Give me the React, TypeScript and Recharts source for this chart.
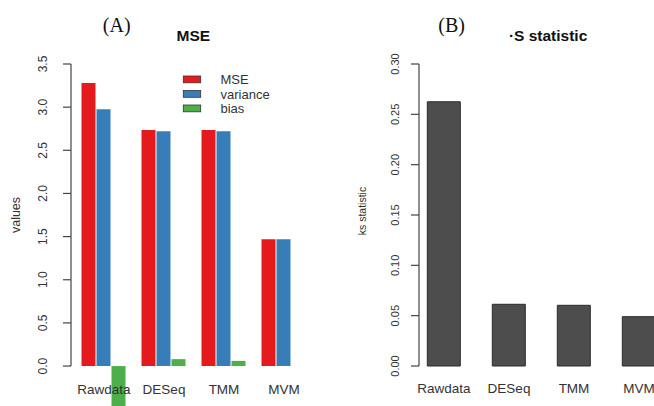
import { Bar, BarChart, XAxis, YAxis } from "recharts";

const methods = ["Rawdata", "DESeq", "TMM", "MVM"];
const mseValues = [3.28, 2.735, 2.735, 1.47];
const varianceValues = [2.975, 2.72, 2.72, 1.47];
const biasValues = [-0.5, 0.08, 0.06, 0];
const ksValues = [0.2625, 0.0613, 0.0603, 0.049];
const mseTicks = [0, 0.5, 1, 1.5, 2, 2.5, 3, 3.5];
const ksTicks = [0, 0.05, 0.1, 0.15, 0.2, 0.25, 0.3];
const mseDomain = [-0.5, 3.5];

const SANS = "'Liberation Sans', Arial, sans-serif";
const SERIF = "'Liberation Serif', 'Times New Roman', serif";
const AXIS_INK = "#444";
const LABEL_INK = "#333";
const TICK_SIZE = 8;

/** RColorBrewer Set1, as in the original barplot. */
const SERIES = [
  { key: "mse", name: "MSE", color: "#E41A1C" },
  { key: "variance", name: "variance", color: "#377EB8" },
  { key: "bias", name: "bias", color: "#4DAF4A" },
];

const mseData = methods.map((m, i) => ({
  method: m,
  mse: mseValues[i],
  variance: varianceValues[i],
  bias: biasValues[i],
}));
const ksData = methods.map((m, i) => ({ method: m, ks: ksValues[i] }));

// panel A frame: the plot runs below zero so the negative bias bar can hang past the labels
const A_HEIGHT = 412;
const A_MARGIN = { top: 64, right: 16, bottom: 0.8, left: 0 };
const A_XAXIS_H = 2;
const A_YAXIS_W = 71;
const A_TICK_MARGIN = 19.7;
const aPlotH = A_HEIGHT - A_MARGIN.top - A_MARGIN.bottom - A_XAXIS_H;
// pixel gap between two y ticks; R only draws its axis over the tick range, so
// every tick above zero draws the piece of axis down to the tick below it
const aTickStep = ((mseTicks[1] - mseTicks[0]) / (mseDomain[1] - mseDomain[0])) * aPlotH;

const tickLabel = (x: number, y: number, text: string, fontSize: number) => (
  <text
    x={x}
    y={y}
    transform={`rotate(-90 ${x} ${y})`}
    textAnchor="middle"
    dominantBaseline="central"
    fontSize={fontSize}
    fontFamily={SANS}
    fill={LABEL_INK}
  >
    {text}
  </text>
);

// y tick labels in R are turned to read bottom-to-top
const rotatedTick = (digits: number, fontSize: number) => (p: any) =>
  tickLabel(p.x, p.y, Number(p.payload.value).toFixed(digits), fontSize);

const mseTick = (p: any) => {
  const axisX = p.x + TICK_SIZE + A_TICK_MARGIN;
  return (
    <g>
      {p.payload.value > mseTicks[0] && (
        <line
          x1={axisX}
          x2={axisX}
          y1={p.y}
          y2={p.y + aTickStep}
          stroke={AXIS_INK}
          strokeWidth={1.2}
        />
      )}
      {tickLabel(p.x, p.y, Number(p.payload.value).toFixed(1), 12)}
    </g>
  );
};

const categoryTick = (dy: number) => (p: any) => (
  <text
    x={p.x}
    y={p.y + dy}
    textAnchor="middle"
    dominantBaseline="central"
    fontSize={13.5}
    fontFamily={SANS}
    fill={LABEL_INK}
  >
    {p.payload.value}
  </text>
);

function MsePanel() {
  return (
    <BarChart
      width={330}
      height={A_HEIGHT}
      data={mseData}
      margin={A_MARGIN}
      barCategoryGap={7.5}
      barGap={1}
    >
      <XAxis
        dataKey="method"
        height={A_XAXIS_H}
        padding={{ left: 3, right: 0 }}
        axisLine={false}
        tickLine={false}
        tickSize={0}
        tickMargin={0}
        interval={0}
        tick={categoryTick(-20.2)}
      />
      <YAxis
        domain={mseDomain}
        ticks={mseTicks}
        width={A_YAXIS_W}
        axisLine={false}
        tickSize={TICK_SIZE}
        tickMargin={A_TICK_MARGIN}
        tickLine={{ stroke: AXIS_INK, strokeWidth: 1.2 }}
        interval={0}
        tick={mseTick}
      />
      {SERIES.map((s) => (
        <Bar key={s.key} dataKey={s.key} name={s.name} fill={s.color} isAnimationActive={false} />
      ))}
    </BarChart>
  );
}

function KsPanel() {
  return (
    <BarChart
      width={360}
      height={406}
      data={ksData}
      margin={{ top: 64, right: 18.5, bottom: 0, left: 0 }}
      barCategoryGap={15.8}
    >
      <XAxis
        dataKey="method"
        height={40}
        padding={{ left: -7.5, right: 0 }}
        axisLine={false}
        tickLine={false}
        tickSize={0}
        tickMargin={0}
        interval={0}
        tick={categoryTick(22.3)}
      />
      <YAxis
        domain={[0, 0.3]}
        ticks={ksTicks}
        width={89}
        axisLine={{ stroke: AXIS_INK, strokeWidth: 1.2 }}
        tickLine={{ stroke: AXIS_INK, strokeWidth: 1.2 }}
        tickSize={TICK_SIZE}
        tickMargin={16}
        interval={0}
        tick={rotatedTick(2, 11)}
      />
      <Bar dataKey="ks" name="ks statistic" fill="#4D4D4D" stroke="#2b2b2b" isAnimationActive={false} />
    </BarChart>
  );
}

export default function App() {
  return (
    <div
      style={{
        position: "absolute",
        left: 0,
        top: 0,
        width: 654,
        height: 406,
        overflow: "hidden",
        background: "#fff",
      }}
    >
      <div style={{ position: "absolute", left: 0, top: 0 }}>
        <MsePanel />
      </div>
      <div style={{ position: "absolute", left: 330, top: 0 }}>
        <KsPanel />
      </div>
      <svg
        width={654}
        height={406}
        style={{ position: "absolute", left: 0, top: 0, pointerEvents: "none" }}
      >
        <text x={116.7} y={32} textAnchor="middle" fontSize={20} fontFamily={SERIF} fill="#111">
          (A)
        </text>
        <text x={451.7} y={32} textAnchor="middle" fontSize={20} fontFamily={SERIF} fill="#111">
          (B)
        </text>
        <text
          x={193.3}
          y={35.5}
          textAnchor="middle"
          dominantBaseline="central"
          fontSize={15.5}
          fontWeight="bold"
          fontFamily={SANS}
          fill="#111"
        >
          MSE
        </text>
        <text
          x={587.3}
          y={35.5}
          textAnchor="end"
          dominantBaseline="central"
          fontSize={15.5}
          fontWeight="bold"
          fontFamily={SANS}
          fill="#111"
        >
          ·S statistic
        </text>
        <text
          x={16}
          y={215}
          transform="rotate(-90 16 215)"
          textAnchor="middle"
          dominantBaseline="central"
          fontSize={12.5}
          fontFamily={SANS}
          fill={LABEL_INK}
        >
          values
        </text>
        <text
          x={361.7}
          y={211}
          transform="rotate(-90 361.7 211)"
          textAnchor="middle"
          dominantBaseline="central"
          fontSize={10.5}
          fontFamily={SANS}
          fill={LABEL_INK}
        >
          ks statistic
        </text>
        {SERIES.map((s, i) => (
          <g key={s.key}>
            <rect
              x={183.3}
              y={76 + i * 14.5}
              width={17.4}
              height={6.8}
              fill={s.color}
              stroke="#333"
              strokeWidth={0.8}
            />
            <text
              x={220.5}
              y={79.6 + i * 14.5}
              dominantBaseline="central"
              fontSize={13}
              fontFamily={SANS}
              fill={LABEL_INK}
            >
              {s.name}
            </text>
          </g>
        ))}
      </svg>
    </div>
  );
}
